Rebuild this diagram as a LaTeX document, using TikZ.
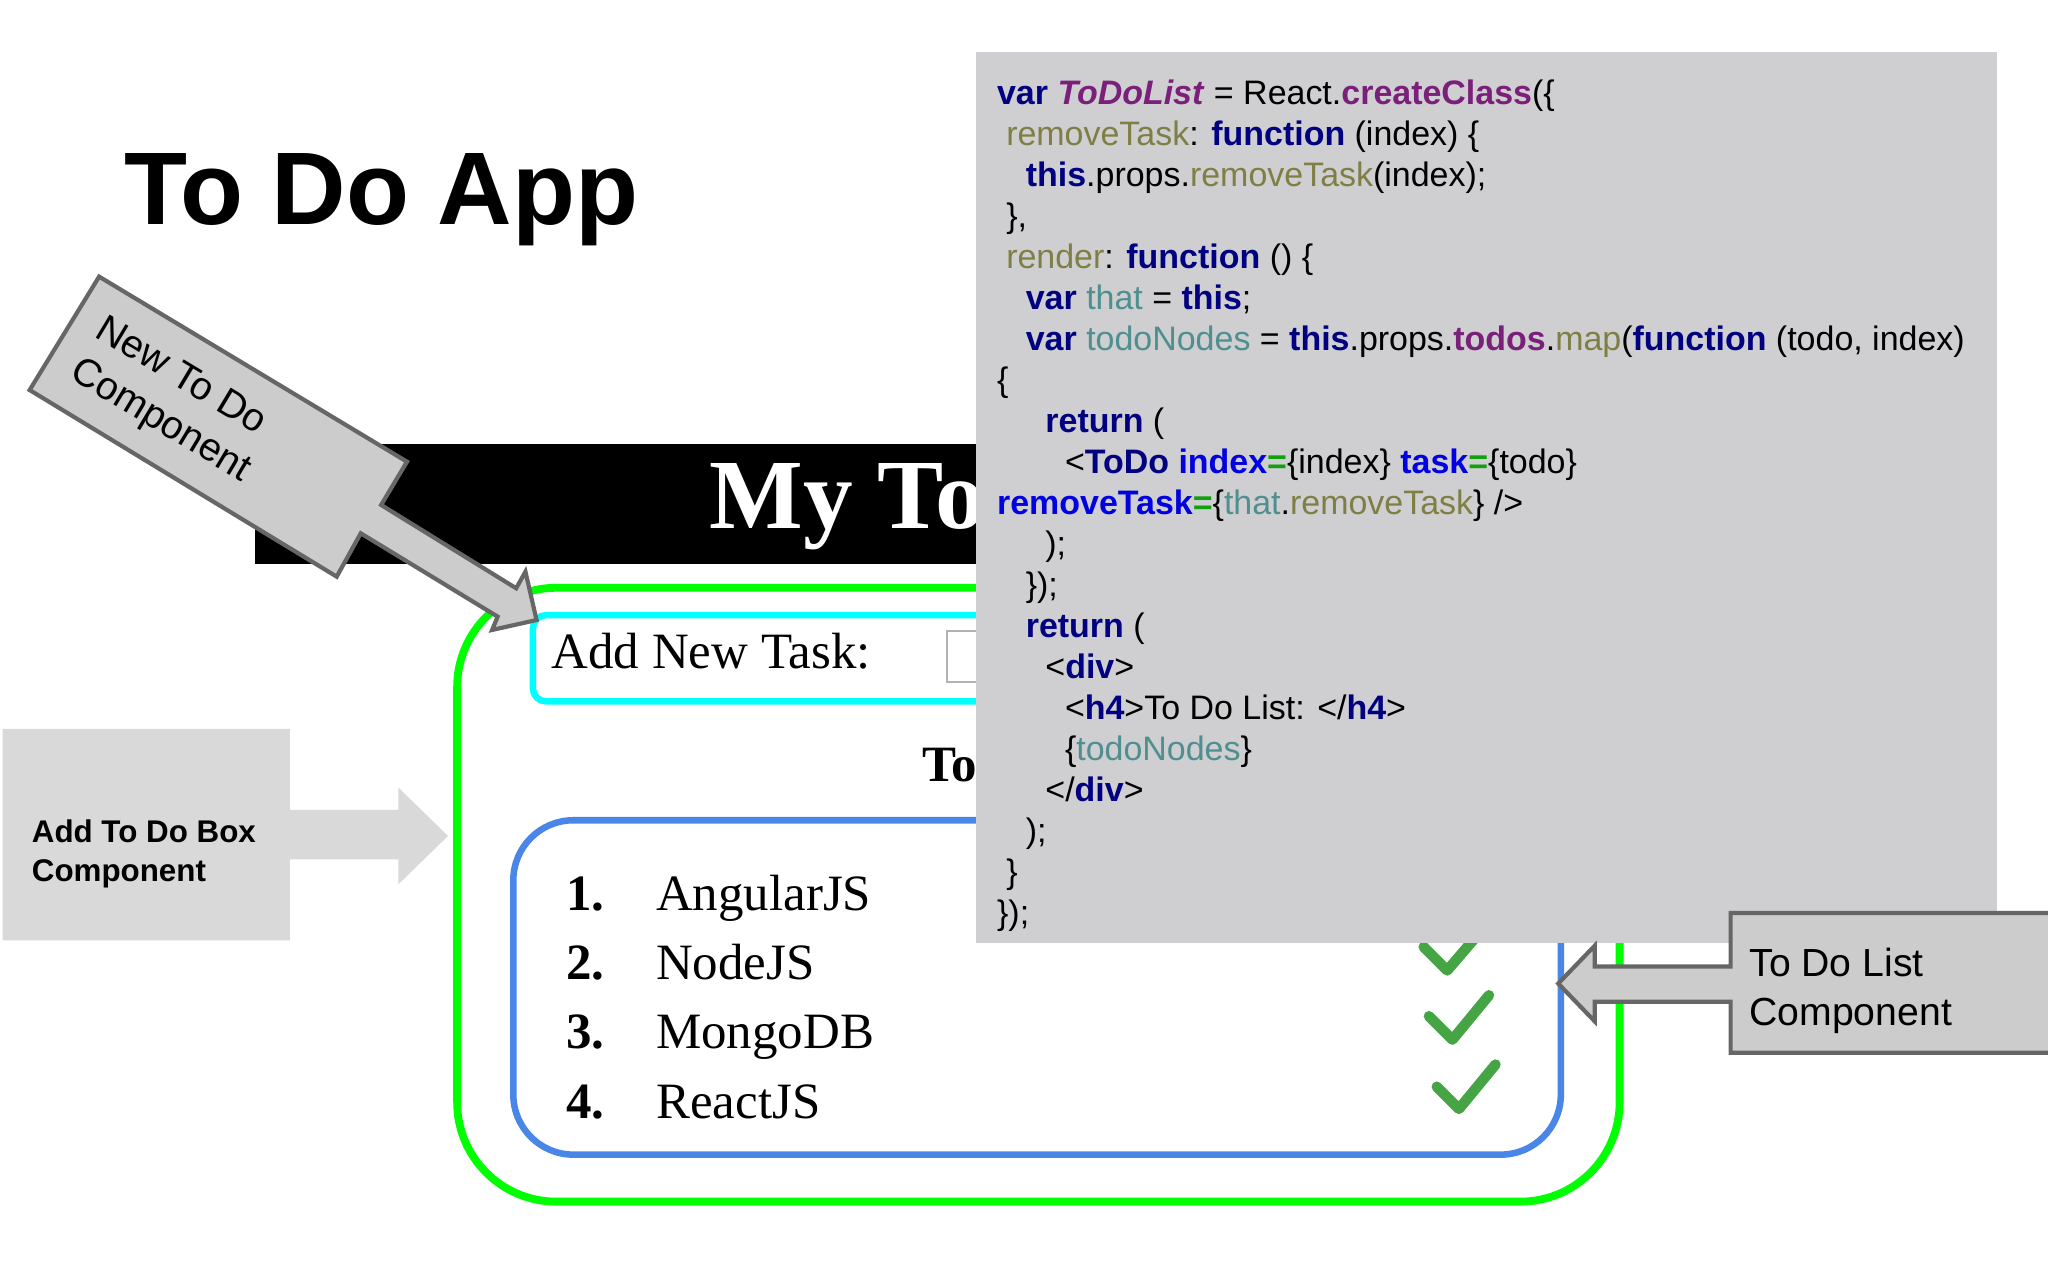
\documentclass[tikz,border=0pt]{standalone}
\usepackage{fontspec}
\setmainfont{Liberation Serif}
\setsansfont{Liberation Sans}
\newfontfamily\arialf{Liberation Sans}
\definecolor{kwc}{HTML}{000080}
\definecolor{purc}{HTML}{7A1F7A}
\definecolor{olic}{HTML}{7F7F45}
\definecolor{teac}{HTML}{4F8F8F}
\definecolor{atrc}{HTML}{0000E0}
\definecolor{eqc}{HTML}{10A010}
\definecolor{codebg}{HTML}{CFCFD1}
\definecolor{callg}{HTML}{CCCCCC}
\definecolor{calld}{HTML}{666666}
\definecolor{boxg}{HTML}{D9D9D9}
\definecolor{greenb}{HTML}{00FF00}
\definecolor{cyanb}{HTML}{00FFFF}
\definecolor{blueb}{HTML}{4A86E8}
\definecolor{checkc}{HTML}{45A545}
\newcommand\kwd[1]{\textcolor{kwc}{\textbf{#1}}}
\newcommand\purp[1]{\textcolor{purc}{\textbf{#1}}}
\newcommand\oli[1]{\textcolor{olic}{#1}}
\newcommand\tea[1]{\textcolor{teac}{#1}}
\newcommand\atr[1]{\textcolor{atrc}{\textbf{#1}}}
\newcommand\eqg[1]{\textcolor{eqc}{\textbf{#1}}}
\tikzset{
  code/.style={anchor=base west,inner sep=0pt,font=\arialf\fontsize{13}{15}\selectfont},
  item/.style={anchor=base west,inner sep=0pt,font=\rmfamily\fontsize{19.5}{22}\selectfont},
  itemb/.style={anchor=base west,inner sep=0pt,font=\rmfamily\bfseries\fontsize{19.5}{22}\selectfont},
  calltext/.style={font=\arialf\fontsize{15}{18.5}\selectfont,align=left,inner sep=0pt},
  checkm/.style={draw=checkc,line width=4pt,line cap=round,line join=round}
}
\begin{document}
\begin{tikzpicture}[x=0.5pt,y=-0.5pt]
\useasboundingbox (0,0) rectangle (1568,980);
\fill[white] (0,0) rectangle (1568,980);
% title
\node[anchor=base west,inner sep=0pt,font=\arialf\bfseries\fontsize{39.5}{44}\selectfont] (title) at (95,172) {To Do App};
% page header bar
\fill[black] (195,340) rectangle (747,432);
\begin{scope}
\clip (195,330) rectangle (747,440);
\node[anchor=base west,inner sep=0pt,text=white,font=\rmfamily\bfseries\fontsize{38}{44}\selectfont] (mytodo) at (543,405) {My To};
\end{scope}
% green box
\draw[greenb,line width=3pt,rounded corners=38pt] (350,450) rectangle (1240,920);
% cyan box
\draw[cyanb,line width=2.5pt,rounded corners=5pt] (408,471) rectangle (1180,537);
\node[item] (addtask) at (422,512) {Add New Task:};
\draw[gray!60,line width=0.8pt] (725,483) rectangle (900,522);
\node[itemb] (listh) at (706,598) {To};
% blue box
\draw[blueb,line width=2.5pt,rounded corners=23pt] (393,628) rectangle (1195,884);
\foreach \n/\t/\y in {1/AngularJS/697,2/NodeJS/750,3/MongoDB/803,4/ReactJS/856}{
  \node[itemb] (num\n) at (433,\y) {\n.};
  \node[item] (name\n) at (502,\y) {\t};
}
\draw[checkm] (1090,725)--(1108,743)--(1138,708);
\draw[checkm] (1094,778)--(1112,796)--(1140,762);
\draw[checkm] (1100,832)--(1117,849)--(1145,815);
% code box
\fill[codebg] (747,40) rectangle (1529,722);
\node[code] (l1) at (763,80) {\kwd{var} \textcolor{purc}{\textbf{\textit{ToDoList}}} = React.\purp{createClass}(\{};
\node[code] (l2) at (770,111.4) {\oli{removeTask}: \kwd{function} (index) \{};
\node[code] (l3) at (785,142.8) {\kwd{this}.props.\oli{removeTask}(index);};
\node[code] (l4) at (770,174.2) {\},};
\node[code] (l5) at (770,205.6) {\oli{render}: \kwd{function} () \{};
\node[code] (l6) at (785,237) {\kwd{var} \tea{that} = \kwd{this};};
\node[code] (l7) at (785,268.4) {\kwd{var} \tea{todoNodes} = \kwd{this}.props.\purp{todos}.\oli{map}(\kwd{function} (todo, index)};
\node[code] (l8) at (763,299.8) {\{};
\node[code] (l9) at (800,331.2) {\kwd{return} (};
\node[code] (l10) at (815,362.6) {<\kwd{ToDo} \atr{index}\eqg{=}\{index\} \atr{task}\eqg{=}\{todo\}};
\node[code] (l11) at (763,394) {\atr{removeTask}\eqg{=}\{\tea{that}.\oli{removeTask}\} />};
\node[code] (l12) at (800,425.4) {);};
\node[code] (l13) at (785,456.8) {\});};
\node[code] (l14) at (785,488.2) {\kwd{return} (};
\node[code] (l15) at (800,519.6) {<\kwd{div}>};
\node[code] (l16) at (815,551) {<\kwd{h4}>To Do List: </\kwd{h4}>};
\node[code] (l17) at (815,582.4) {\{\tea{todoNodes}\}};
\node[code] (l18) at (800,613.8) {</\kwd{div}>};
\node[code] (l19) at (785,645.2) {);};
\node[code] (l20) at (770,676.6) {\}};
\node[code] (l21) at (763,708) {\});};
% Add To Do Box callout
\fill[boxg] (2,558) -- (222,558) -- (222,620) -- (305,620) -- (305,603) -- (343,640) -- (305,677) -- (305,658) -- (222,658) -- (222,720) -- (2,720) -- cycle;
\node[anchor=base west,inner sep=0pt,font=\arialf\bfseries\fontsize{12}{15}\selectfont] (addbox1) at (24,645) {Add To Do Box};
\node[anchor=base west,inner sep=0pt,font=\arialf\bfseries\fontsize{12}{15}\selectfont] (addbox2) at (24,675) {Component};
% To Do List callout
\filldraw[fill=callg,draw=calld,line width=1.6pt,line join=miter] (1325,699) -- (1572,699) -- (1572,806) -- (1325,806) -- (1325,767) -- (1221,767) -- (1221,782) -- (1193,753) -- (1221,724) -- (1221,740) -- (1325,740) -- cycle;
\node[anchor=base west,inner sep=0pt,font=\arialf\fontsize{15}{18}\selectfont] (tdl1) at (1339,748) {To Do List};
\node[anchor=base west,inner sep=0pt,font=\arialf\fontsize{15}{18}\selectfont] (tdl2) at (1339,785) {Component};
% New To Do callout
\filldraw[fill=callg,draw=calld,line width=1.6pt,line join=miter] (75.9,211.8) -- (311.6,353.5) -- (291.8,386.6) -- (395.2,450.4) -- (402.3,437.7) -- (410.8,474.7) -- (376.8,482.3) -- (381,472.1) -- (276.2,408.3) -- (257.8,441.5) -- (22.7,298.6) -- cycle;
\node[calltext,rotate=-31] (newtodo) at (132,307) {New To Do\\Component};
\end{tikzpicture}
\end{document}
